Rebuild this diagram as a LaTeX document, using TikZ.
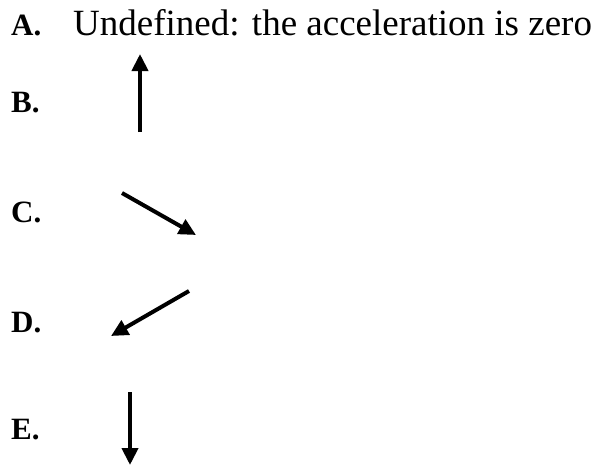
\documentclass[tikz,border=0pt]{standalone}
\usepackage{fontspec}
\setmainfont{Liberation Serif}
\usetikzlibrary{arrows.meta}
\tikzset{
  lbl/.style={anchor=base west,inner sep=0pt,font=\fontsize{31}{36}\selectfont\bfseries},
  vec/.style={line width=4pt,-{Triangle[length=17pt,width=16pt]}}
}
\begin{document}
\begin{tikzpicture}[x=1pt,y=-1pt]
  \useasboundingbox (0,0) rectangle (595,466);
  \foreach \n/\y in {A/35,B/112,C/222,D/332,E/439}{\node[lbl] (\n) at (11,\y) {\n.};}
  \node[anchor=base west,inner sep=0pt,font=\fontsize{37}{42}\selectfont] (ans) at (73,35) {Undefined: the acceleration is zero};

  \coordinate (b0) at (140,132); \coordinate (b1) at (140,54);
  \coordinate (c0) at (122,193); \coordinate (c1) at (196,235);
  \coordinate (d0) at (189,291); \coordinate (d1) at (111,336);
  \coordinate (e0) at (130,392); \coordinate (e1) at (130,465);
  \foreach \v in {b,c,d,e}{\draw[vec] (\v0) -- (\v1);}
\end{tikzpicture}
\end{document}
